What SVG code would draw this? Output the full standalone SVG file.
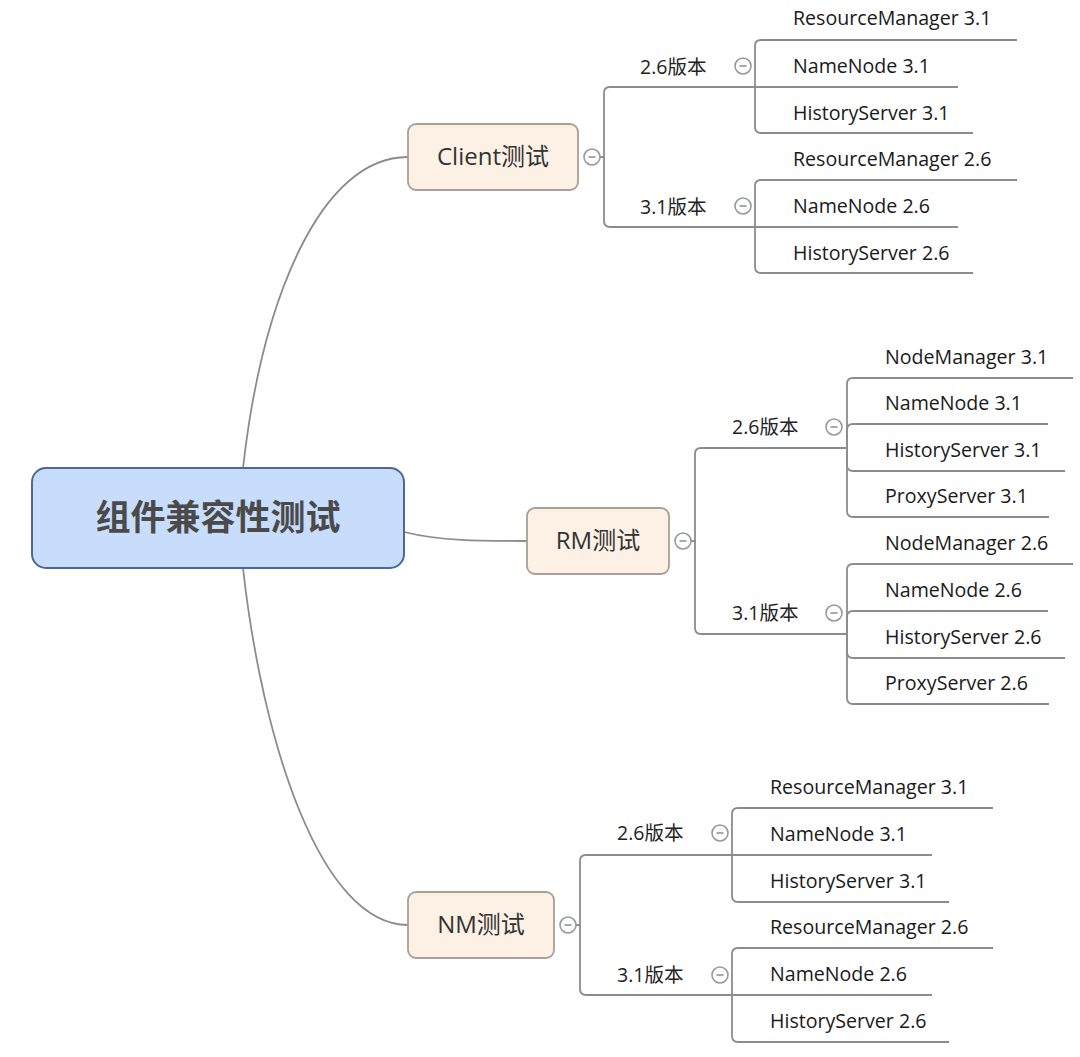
<svg xmlns="http://www.w3.org/2000/svg" width="1080" height="1057" viewBox="0 0 1080 1057">
<defs>
<style>
.bg{fill:#ffffff}
.ln{fill:none;stroke:#8c8c8c;stroke-width:1.8}
.root{fill:#c8dcfb;stroke:#4e6895;stroke-width:2}
.sub{fill:#fdf1e6;stroke:#a99f95;stroke-width:1.8}
.rt{font-family:"Noto Sans CJK SC","Noto Sans",sans-serif;font-size:35px;font-weight:bold;fill:#4a4a4a;text-anchor:middle}
.st{font-family:"Open Sans","Noto Sans CJK SC",sans-serif;font-size:24px;fill:#333333;text-anchor:middle}
.vt{font-family:"Open Sans","Noto Sans CJK SC",sans-serif;font-size:19.5px;fill:#222222}
.lt{font-family:"Open Sans","Noto Sans CJK SC",sans-serif;font-size:19.6px;fill:#1a1a1a}
.cc{fill:#ffffff;stroke:#999999;stroke-width:1.6}
.cm{stroke:#8494b0;stroke-width:1.6}
</style>
<g id="collapse">
<circle class="cc" cx="0" cy="0" r="8"/>
<line class="cm" x1="-3.5" y1="0" x2="3.5" y2="0"/>
</g>
</defs>
<rect class="bg" x="0" y="0" width="1080" height="1057"/>

<g id="connectors">
<!-- root to subtopics -->
<path class="ln" d="M243,468 C262,300 320,157 408,157"/>
<path class="ln" d="M404,532 C440,541 480,541 527,541"/>
<path class="ln" d="M243,568 C262,740 320,925 408,925"/>

<!-- Client -->
<path class="ln" d="M600,157 H604 V93 Q604,87 610,87 H755"/>
<path class="ln" d="M604,157 V221 Q604,227 610,227 H755"/>
<path class="ln" d="M755,87 V46 Q755,40 761,40 H1017"/>
<path class="ln" d="M755,87 H958"/>
<path class="ln" d="M755,87 V127 Q755,133 761,133 H973"/>
<path class="ln" d="M755,227 V186 Q755,180 761,180 H1017"/>
<path class="ln" d="M755,227 H958"/>
<path class="ln" d="M755,227 V267 Q755,273 761,273 H973"/>

<!-- RM -->
<path class="ln" d="M691,541 H695 V454 Q695,448 701,448 H847"/>
<path class="ln" d="M695,541 V628 Q695,634 701,634 H847"/>
<path class="ln" d="M847,448 V384 Q847,378 853,378 H1073"/>
<path class="ln" d="M847,448 V430 Q847,424 853,424 H1048"/>
<path class="ln" d="M847,448 V465 Q847,471 853,471 H1065"/>
<path class="ln" d="M847,448 V511 Q847,517 853,517 H1049"/>
<path class="ln" d="M847,634 V570 Q847,564 853,564 H1073"/>
<path class="ln" d="M847,634 V617 Q847,611 853,611 H1048"/>
<path class="ln" d="M847,634 V652 Q847,658 853,658 H1065"/>
<path class="ln" d="M847,634 V698 Q847,704 853,704 H1049"/>

<!-- NM -->
<path class="ln" d="M576,925 H580 V861 Q580,855 586,855 H732"/>
<path class="ln" d="M580,925 V989 Q580,995 586,995 H732"/>
<path class="ln" d="M732,855 V814 Q732,808 738,808 H993"/>
<path class="ln" d="M732,855 H932"/>
<path class="ln" d="M732,855 V896 Q732,902 738,902 H949"/>
<path class="ln" d="M732,995 V954 Q732,948 738,948 H993"/>
<path class="ln" d="M732,995 H932"/>
<path class="ln" d="M732,995 V1036 Q732,1042 738,1042 H949"/>
</g>

<g id="root">
<rect class="root" x="32" y="468" width="372" height="100" rx="14"/>
<text class="rt" x="218" y="530">组件兼容性测试</text>
</g>

<g id="client">
<rect class="sub" x="408" y="124" width="170" height="66" rx="8"/>
<text class="st" x="493" y="165">Client测试</text>
<use href="#collapse" x="592" y="157"/>
</g>
<g id="client-26">
<text class="vt" x="640" y="74">2.6版本</text>
<use href="#collapse" x="743" y="66"/>
</g>
<g id="client-26-rm"><text class="lt" x="793" y="25">ResourceManager 3.1</text></g>
<g id="client-26-nn"><text class="lt" x="793" y="73">NameNode 3.1</text></g>
<g id="client-26-hs"><text class="lt" x="793" y="120">HistoryServer 3.1</text></g>
<g id="client-31">
<text class="vt" x="640" y="214">3.1版本</text>
<use href="#collapse" x="743" y="206"/>
</g>
<g id="client-31-rm"><text class="lt" x="793" y="166">ResourceManager 2.6</text></g>
<g id="client-31-nn"><text class="lt" x="793" y="213">NameNode 2.6</text></g>
<g id="client-31-hs"><text class="lt" x="793" y="260">HistoryServer 2.6</text></g>

<g id="rm">
<rect class="sub" x="527" y="508" width="142" height="66" rx="8"/>
<text class="st" x="598" y="549">RM测试</text>
<use href="#collapse" x="683" y="541"/>
</g>
<g id="rm-26">
<text class="vt" x="732" y="434">2.6版本</text>
<use href="#collapse" x="834" y="427"/>
</g>
<g id="rm-26-nm"><text class="lt" x="885" y="364">NodeManager 3.1</text></g>
<g id="rm-26-nn"><text class="lt" x="885" y="410">NameNode 3.1</text></g>
<g id="rm-26-hs"><text class="lt" x="885" y="457">HistoryServer 3.1</text></g>
<g id="rm-26-ps"><text class="lt" x="885" y="503">ProxyServer 3.1</text></g>
<g id="rm-31">
<text class="vt" x="732" y="620">3.1版本</text>
<use href="#collapse" x="834" y="613"/>
</g>
<g id="rm-31-nm"><text class="lt" x="885" y="550">NodeManager 2.6</text></g>
<g id="rm-31-nn"><text class="lt" x="885" y="597">NameNode 2.6</text></g>
<g id="rm-31-hs"><text class="lt" x="885" y="644">HistoryServer 2.6</text></g>
<g id="rm-31-ps"><text class="lt" x="885" y="690">ProxyServer 2.6</text></g>

<g id="nm">
<rect class="sub" x="408" y="892" width="146" height="66" rx="8"/>
<text class="st" x="481" y="933">NM测试</text>
<use href="#collapse" x="568" y="925"/>
</g>
<g id="nm-26">
<text class="vt" x="617" y="840">2.6版本</text>
<use href="#collapse" x="720" y="833"/>
</g>
<g id="nm-26-rm"><text class="lt" x="770" y="794">ResourceManager 3.1</text></g>
<g id="nm-26-nn"><text class="lt" x="770" y="841">NameNode 3.1</text></g>
<g id="nm-26-hs"><text class="lt" x="770" y="888">HistoryServer 3.1</text></g>
<g id="nm-31">
<text class="vt" x="617" y="982">3.1版本</text>
<use href="#collapse" x="720" y="975"/>
</g>
<g id="nm-31-rm"><text class="lt" x="770" y="934">ResourceManager 2.6</text></g>
<g id="nm-31-nn"><text class="lt" x="770" y="981">NameNode 2.6</text></g>
<g id="nm-31-hs"><text class="lt" x="770" y="1028">HistoryServer 2.6</text></g>
</svg>
